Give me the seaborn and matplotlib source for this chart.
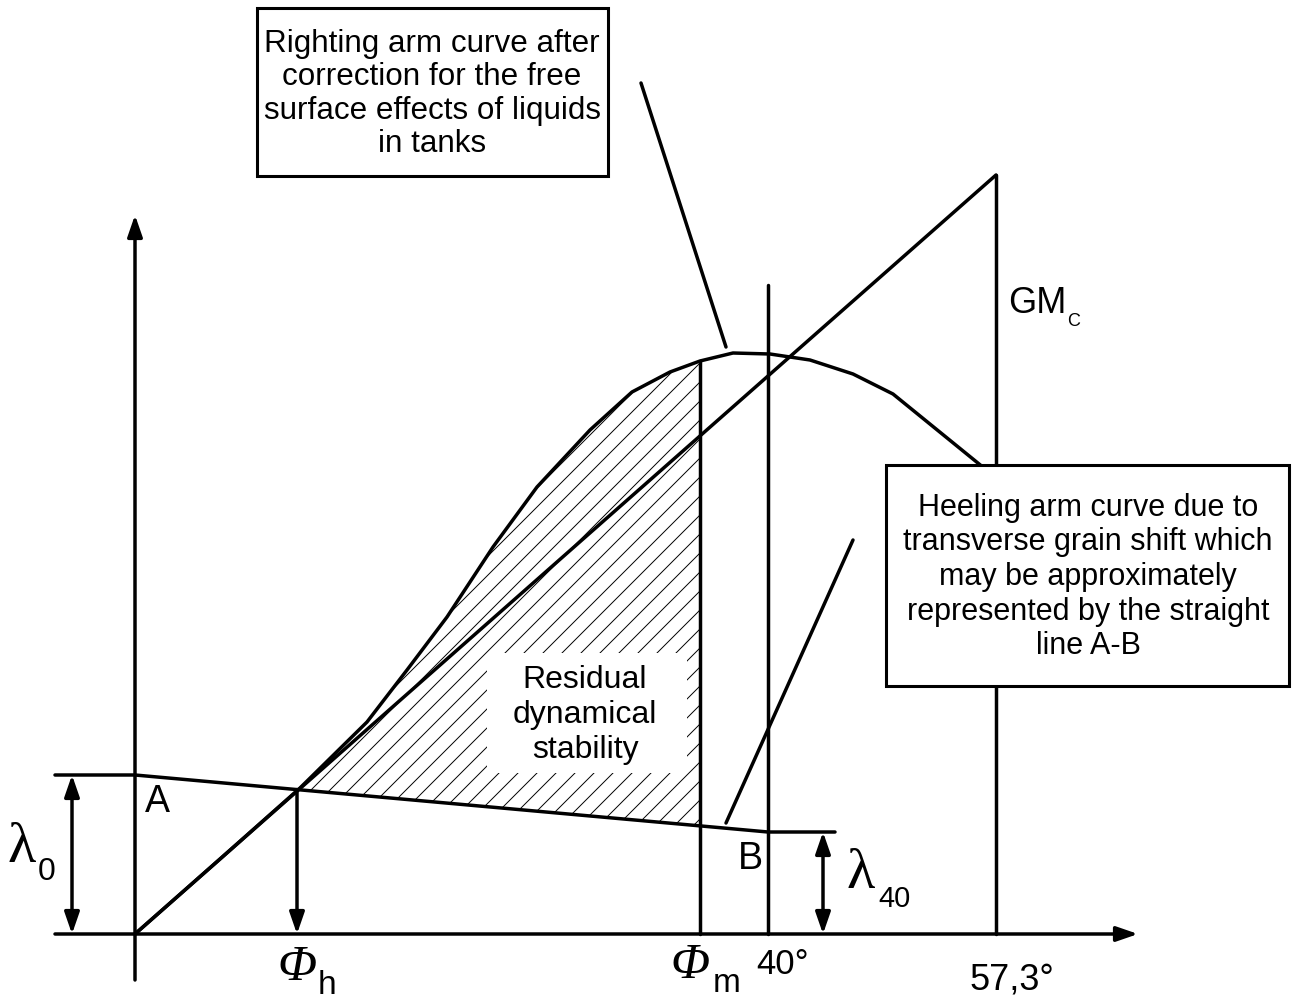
import numpy as np
import matplotlib
matplotlib.use("Agg")
import matplotlib.pyplot as plt
from matplotlib.patches import Rectangle, Polygon, FancyArrowPatch
import pandas as pd
import seaborn as sns

# diagram units (1 unit ~ 1 px of the drawing), origin where the axes cross
righting_x = [0, 85, 165, 232, 272, 312, 358, 402, 455, 497, 535, 565, 598, 635, 675, 718, 758, 865]
righting_y = [0, 75, 146, 212, 264, 317, 387, 447, 504, 542, 562, 573, 581, 580, 574, 560, 540, 453]
gm_x = [0, 861]
gm_y = [0, 759]
heel_x = [-80, 0, 633, 700]
heel_y = [159, 159, 102, 102]
phi_h = 162
phi_m = 565
deg_40 = 633
deg_57 = 861
x_labels = ["40°", "57,3°"]

SANS = "Liberation Sans"
SERIF = "Liberation Serif"
LW = 2.5


def arrow(ax, p0, p1, style="-|>"):
    ar = FancyArrowPatch(p0, p1, arrowstyle=style + ",head_length=1.3,head_width=0.45",
                         mutation_scale=10, color="black", lw=LW, shrinkA=0, shrinkB=0)
    ax.add_patch(ar)


def heel_at(x):
    return np.interp(x, heel_x, heel_y)


def draw_hatch(ax):
    upper = [(x, y) for x, y in zip(righting_x, righting_y) if phi_h < x <= phi_m]
    pts = [(phi_h, heel_at(phi_h))] + upper + [(phi_m, heel_at(phi_m))]
    poly = Polygon(pts, closed=True, facecolor="none", edgecolor="none")
    ax.add_patch(poly)
    for c in np.arange(-1400, 1400, 19):
        ln, = ax.plot([-200, 1300], [-200 + c, 1300 + c], color="black", lw=0.7, zorder=1)
        ln.set_clip_path(poly)
    ax.add_patch(Rectangle((352, 161), 200, 120, facecolor="white", edgecolor="none", zorder=2))
    ax.text(450, 219, "Residual\ndynamical\nstability", ha="center", va="center",
            fontsize=23, family=SANS, linespacing=1.2, zorder=3)


def main():
    sns.set_style("white")
    plt.rcParams["text.color"] = "black"
    fig = plt.figure(figsize=(12.92, 10.01), dpi=100)
    ax = fig.add_axes([0, 0, 1, 1])
    ax.set_xlim(-135, 1157)
    ax.set_ylim(-67, 934)
    ax.axis("off")

    draw_hatch(ax)

    df_r = pd.DataFrame({"x": righting_x, "y": righting_y})
    sns.lineplot(data=df_r, x="x", y="y", sort=False, estimator=None, color="black", lw=LW, ax=ax, zorder=4)
    sns.lineplot(x=gm_x, y=gm_y, sort=False, estimator=None, color="black", lw=LW, ax=ax, zorder=4)
    sns.lineplot(x=heel_x, y=heel_y, sort=False, estimator=None, color="black", lw=LW, ax=ax, zorder=4)

    # axes with arrows
    arrow(ax, (-80, 0), (1003, 0))
    arrow(ax, (0, -46), (0, 719))

    # verticals
    ax.plot([phi_m, phi_m], [0, np.interp(phi_m, righting_x, righting_y)], color="black", lw=LW, zorder=4)
    ax.plot([deg_40, deg_40], [0, 649], color="black", lw=LW, zorder=4)
    ax.plot([deg_57, deg_57], [0, gm_y[-1]], color="black", lw=LW, zorder=4)
    arrow(ax, (phi_h, heel_at(phi_h)), (phi_h, 0))
    arrow(ax, (-63, 0), (-63, heel_y[0]), "<|-|>")
    arrow(ax, (688, 0), (688, heel_y[-1]), "<|-|>")

    # pointer lines
    ax.plot([506, 591], [851, 587], color="black", lw=LW, zorder=4)
    ax.plot([718, 591], [394, 111], color="black", lw=LW, zorder=4)

    # boxes
    ax.add_patch(Rectangle((122, 758), 351, 168, facecolor="white", edgecolor="black", lw=2.2, zorder=6))
    ax.text(297, 840, "Righting arm curve after\ncorrection for the free\nsurface effects of liquids\nin tanks",
            ha="center", va="center", fontsize=22.6, family=SANS, linespacing=1.15, zorder=7)
    ax.add_patch(Rectangle((751, 248), 403, 221, facecolor="white", edgecolor="black", lw=2.2, zorder=6))
    ax.text(953, 357, "Heeling arm curve due to\ntransverse grain shift which\nmay be approximately\n"
            "represented by the straight\nline A-B",
            ha="center", va="center", fontsize=22, family=SANS, linespacing=1.2, zorder=7)

    # labels
    ax.text(22, 132, "A", ha="center", va="center", fontsize=27, family=SANS)
    ax.text(615, 75, "B", ha="center", va="center", fontsize=27, family=SANS)
    ax.text(873, 621, "GM", ha="left", va="baseline", fontsize=26, family=SANS)
    ax.text(932, 608, "C", ha="left", va="baseline", fontsize=13, family=SANS)
    ax.text(-128, 72, "λ", ha="left", va="baseline", fontsize=42, family=SERIF)
    ax.text(-97, 54, "0", ha="left", va="baseline", fontsize=23, family=SANS)
    ax.text(712, 46, "λ", ha="left", va="baseline", fontsize=42, family=SERIF)
    ax.text(743, 27, "40", ha="left", va="baseline", fontsize=21, family=SANS)
    ax.text(142, -46, "Φ", ha="left", va="baseline", fontsize=37, family=SERIF, style="italic")
    ax.text(183, -60, "h", ha="left", va="baseline", fontsize=24, family=SANS)
    ax.text(535, -44, "Φ", ha="left", va="baseline", fontsize=37, family=SERIF, style="italic")
    ax.text(578, -58, "m", ha="left", va="baseline", fontsize=24, family=SANS)
    ax.text(648, -30, x_labels[0], ha="center", va="center", fontsize=25, family=SANS)
    ax.text(877, -46, x_labels[1], ha="center", va="center", fontsize=26, family=SANS)

    fig.savefig("out.png", dpi=100, facecolor="white")


if __name__ == '__main__':
    main()
